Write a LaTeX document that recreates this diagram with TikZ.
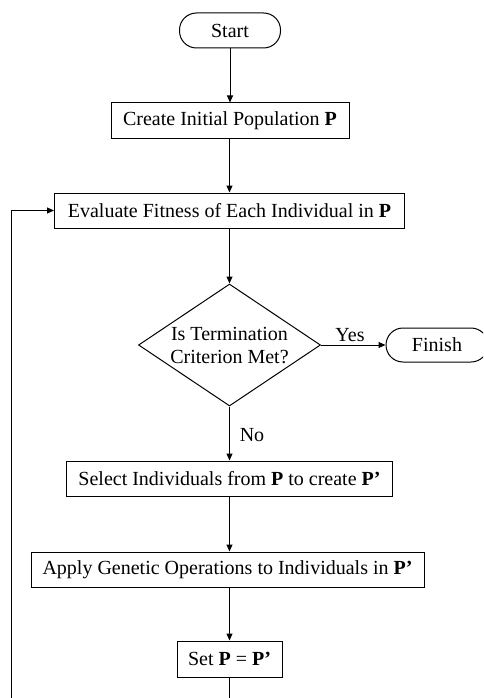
\documentclass[tikz,border=0pt]{standalone}
\usepackage{fontspec}
\setmainfont{Liberation Serif}
\usetikzlibrary{shapes.geometric,arrows.meta}
\begin{document}
\begin{tikzpicture}[x=1pt,y=-1pt,
  font=\fontsize{20}{23}\selectfont,
  line width=1pt,
  procbox/.style={draw, rectangle, minimum height=35pt, inner sep=0pt},
  termbox/.style={draw, rectangle, rounded corners=17pt, minimum height=35pt, inner sep=0pt},
  decision/.style={draw, diamond, minimum width=182pt, minimum height=122pt, inner sep=0pt},
  arr/.style={-{Triangle[length=7pt,width=6pt]}},
  lbl/.style={inner sep=0pt}]
\useasboundingbox (0,0) rectangle (483,698);
\clip (0,0) rectangle (483,698);
\node[termbox, minimum width=101pt] (start) at (230,30.5) {Start};
\node[procbox, minimum width=238pt] (create) at (230,120.5) {Create Initial Population \textbf{P}};
\node[procbox, minimum width=350pt] (eval) at (229.5,210.5) {Evaluate Fitness of Each Individual in \textbf{P}};
\node[decision] (dec) at (229.5,345) {};
\node[align=center, inner sep=0pt] (dectext) at (229.5,346) {Is Termination\\Criterion Met?};
\node[termbox, minimum width=102pt, minimum height=34pt] (finish) at (437,345) {Finish};
\node[procbox, minimum width=326pt] (select) at (229.5,478.5) {Select Individuals from \textbf{P} to create \textbf{P’}};
\node[procbox, minimum width=393pt] (apply) at (227.5,569.5) {Apply Genetic Operations to Individuals in \textbf{P’}};
\node[procbox, minimum width=105pt, minimum height=36pt] (set) at (229.5,659) {Set \textbf{P} = \textbf{P’}};
\coordinate (loopa) at (229.5,720);
\coordinate (loopb) at (11,720);
\draw[arr] (start.south -| create.north) -- (create.north);
\draw[arr] (create.south -| eval.north) -- (eval.north);
\draw[arr] (eval.south) -- (dec.north);
\draw[arr] (dec.east) -- node[lbl, above=3pt, pos=0.45] (yes) {Yes} (finish.west);
\draw[arr] (dec.south) -- (select.north);
\node[lbl] (no) at (252,435) {No};
\draw[arr] (select.south) -- (select.south |- apply.north);
\draw[arr] (select.south |- apply.south) -- (select.south |- set.north);
\draw[arr] (set.south) -- (loopa) -- (loopb) -- (loopb |- eval.west) -- (eval.west);
\end{tikzpicture}
\end{document}
